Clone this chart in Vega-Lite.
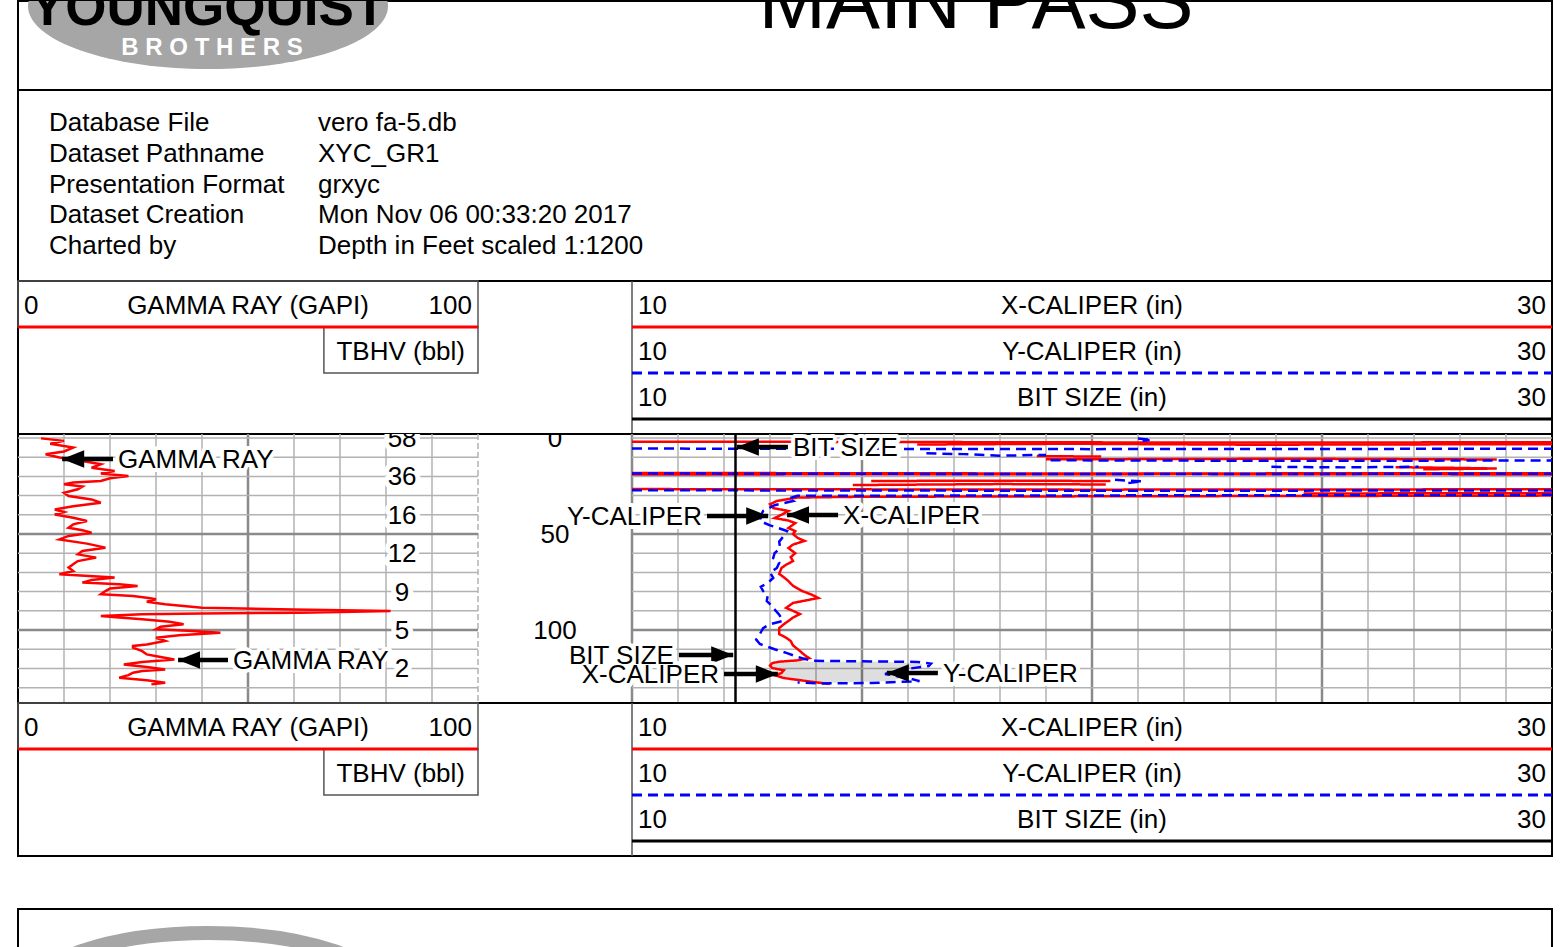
{
"$schema":"https://vega.github.io/schema/vega-lite/v6.json",
"background":"white",
"padding":{"left":15,"top":0,"right":19,"bottom":0},
"spacing":0,
"bounds":"flush",
"config":{"view":{"stroke":"#000000","strokeWidth":2},"font":"Liberation Sans","text":{"font":"Liberation Sans","color":"#000000"}},
"datasets":{
"info":[{"row":1,"label":"Database File","value":"vero fa-5.db"},{"row":2,"label":"Dataset Pathname","value":"XYC_GR1"},{"row":3,"label":"Presentation Format","value":"grxyc"},{"row":4,"label":"Dataset Creation","value":"Mon Nov 06 00:33:20 2017"},{"row":5,"label":"Charted by","value":"Depth in Feet scaled 1:1200"}],
"hdrLeft":[{"row":1,"lo":"0","name":"GAMMA RAY (GAPI)","hi":"100"},{"row":2,"lo":"","name":"TBHV (bbl)","hi":""}],
"hdrRight":[{"row":1,"curve":"X-CALIPER","name":"X-CALIPER (in)","lo":"10","hi":"30"},{"row":2,"curve":"Y-CALIPER","name":"Y-CALIPER (in)","lo":"10","hi":"30"},{"row":3,"curve":"BIT SIZE","name":"BIT SIZE (in)","lo":"10","hi":"30"}],
"depthGrid":[{"depth":0},{"depth":10},{"depth":20},{"depth":30},{"depth":40},{"depth":50},{"depth":60},{"depth":70},{"depth":80},{"depth":90},{"depth":100},{"depth":110},{"depth":120},{"depth":130}],
"grGrid":[{"v":10},{"v":20},{"v":30},{"v":40},{"v":50},{"v":60},{"v":70},{"v":80},{"v":90},{"v":100}],
"calGrid":[{"v":10},{"v":11},{"v":12},{"v":13},{"v":14},{"v":15},{"v":16},{"v":17},{"v":18},{"v":19},{"v":20},{"v":21},{"v":22},{"v":23},{"v":24},{"v":25},{"v":26},{"v":27},{"v":28},{"v":29}],
"gr":[{"depth":0.2,"gr":5},{"depth":1.5,"gr":10},{"depth":3,"gr":7},{"depth":5,"gr":12},{"depth":7,"gr":10},{"depth":8.5,"gr":6},{"depth":10.2,"gr":9},{"depth":12,"gr":14},{"depth":13.7,"gr":18},{"depth":15.5,"gr":16},{"depth":17.2,"gr":21},{"depth":18.5,"gr":18},{"depth":19.8,"gr":24},{"depth":21,"gr":20},{"depth":22.4,"gr":18},{"depth":23.2,"gr":12},{"depth":24.1,"gr":10},{"depth":25.3,"gr":14},{"depth":26.7,"gr":13},{"depth":28.5,"gr":10},{"depth":30.2,"gr":11},{"depth":32,"gr":16},{"depth":33.7,"gr":18},{"depth":35.5,"gr":12},{"depth":37.2,"gr":8},{"depth":38.5,"gr":10},{"depth":39.8,"gr":8},{"depth":41.5,"gr":12},{"depth":43.2,"gr":15},{"depth":45,"gr":12},{"depth":46.7,"gr":11},{"depth":48,"gr":14},{"depth":49.3,"gr":16},{"depth":51,"gr":11},{"depth":52.8,"gr":9},{"depth":55,"gr":15},{"depth":57.1,"gr":19},{"depth":58.8,"gr":14},{"depth":60.6,"gr":13},{"depth":62.3,"gr":17},{"depth":64.1,"gr":13},{"depth":65.8,"gr":12},{"depth":67.5,"gr":11},{"depth":69.3,"gr":12},{"depth":71,"gr":9},{"depth":72.7,"gr":21},{"depth":74,"gr":16},{"depth":75.3,"gr":14},{"depth":76.2,"gr":22},{"depth":77.1,"gr":26},{"depth":78.4,"gr":20},{"depth":79.7,"gr":19},{"depth":81.4,"gr":18},{"depth":82.3,"gr":25},{"depth":83.2,"gr":28},{"depth":84,"gr":30},{"depth":85.3,"gr":28},{"depth":86.6,"gr":32},{"depth":87.5,"gr":36},{"depth":88.4,"gr":40},{"depth":89.3,"gr":60},{"depth":90.1,"gr":81},{"depth":90.6,"gr":70},{"depth":91,"gr":61},{"depth":91.4,"gr":40},{"depth":91.8,"gr":27},{"depth":92.7,"gr":18},{"depth":93.5,"gr":22},{"depth":94.4,"gr":27},{"depth":95.7,"gr":33},{"depth":97,"gr":36},{"depth":98.3,"gr":31},{"depth":99.6,"gr":30},{"depth":100.5,"gr":38},{"depth":101.4,"gr":44},{"depth":102.7,"gr":35},{"depth":104,"gr":30},{"depth":105.7,"gr":32},{"depth":107.5,"gr":28},{"depth":108.3,"gr":25},{"depth":109.2,"gr":25},{"depth":111,"gr":27},{"depth":112.7,"gr":28},{"depth":114,"gr":31},{"depth":115.3,"gr":34},{"depth":116.6,"gr":27},{"depth":117.9,"gr":23},{"depth":119.2,"gr":28},{"depth":120.5,"gr":32},{"depth":121.3,"gr":27},{"depth":122.2,"gr":25},{"depth":123.5,"gr":24},{"depth":124.8,"gr":22},{"depth":126.1,"gr":28},{"depth":127.4,"gr":32},{"depth":128.3,"gr":29}],
"cal":[
{"curve":"X-CALIPER","seg":"x1","depth":1.9,"value":10},{"curve":"X-CALIPER","seg":"x1","depth":2.1,"value":16},{"curve":"X-CALIPER","seg":"x1","depth":2.4,"value":23},{"curve":"X-CALIPER","seg":"x1","depth":2.2,"value":30},
{"curve":"X-CALIPER","seg":"x2","depth":3.4,"value":16.2},{"curve":"X-CALIPER","seg":"x2","depth":3.0,"value":19.5},{"curve":"X-CALIPER","seg":"x2","depth":3.5,"value":23.5},{"curve":"X-CALIPER","seg":"x2","depth":3.2,"value":30},
{"curve":"X-CALIPER","seg":"x3","depth":9.4,"value":18.8},{"curve":"X-CALIPER","seg":"x3","depth":9.7,"value":20.2},
{"curve":"X-CALIPER","seg":"x4","depth":11.1,"value":19.0},{"curve":"X-CALIPER","seg":"x4","depth":10.8,"value":24.5},{"curve":"X-CALIPER","seg":"x4","depth":11.2,"value":28.8},
{"curve":"X-CALIPER","seg":"x5","depth":15.2,"value":26.6},{"curve":"X-CALIPER","seg":"x5","depth":15.6,"value":28.0},{"curve":"X-CALIPER","seg":"x5","depth":15.9,"value":28.8},{"curve":"X-CALIPER","seg":"x5","depth":16.3,"value":27.2},
{"curve":"X-CALIPER","seg":"x6","depth":18.2,"value":10},{"curve":"X-CALIPER","seg":"x6","depth":18.5,"value":20},{"curve":"X-CALIPER","seg":"x6","depth":18.3,"value":30},
{"curve":"X-CALIPER","seg":"x6b","depth":19.0,"value":10},{"curve":"X-CALIPER","seg":"x6b","depth":18.8,"value":22},{"curve":"X-CALIPER","seg":"x6b","depth":19.0,"value":30},
{"curve":"X-CALIPER","seg":"x7","depth":22.4,"value":15.2},{"curve":"X-CALIPER","seg":"x7","depth":22.2,"value":18},{"curve":"X-CALIPER","seg":"x7","depth":22.4,"value":20.4},
{"curve":"X-CALIPER","seg":"x7b","depth":24.5,"value":14.8},{"curve":"X-CALIPER","seg":"x7b","depth":24.0,"value":18},{"curve":"X-CALIPER","seg":"x7b","depth":24.2,"value":20.3},
{"curve":"X-CALIPER","seg":"x8","depth":26.6,"value":10},{"curve":"X-CALIPER","seg":"x8","depth":26.9,"value":20},{"curve":"X-CALIPER","seg":"x8","depth":26.7,"value":30},
{"curve":"X-CALIPER","seg":"x9","depth":28.9,"value":24.6},{"curve":"X-CALIPER","seg":"x9","depth":28.7,"value":30},
{"curve":"X-CALIPER","seg":"xm","depth":30.0,"value":30},{"curve":"X-CALIPER","seg":"xm","depth":30.3,"value":22},{"curve":"X-CALIPER","seg":"xm","depth":30.6,"value":15},{"curve":"X-CALIPER","seg":"xm","depth":31.0,"value":13.6},{"curve":"X-CALIPER","seg":"xm","depth":32.8,"value":13.15},{"curve":"X-CALIPER","seg":"xm","depth":34.5,"value":13.0},{"curve":"X-CALIPER","seg":"xm","depth":36.5,"value":13.07},{"curve":"X-CALIPER","seg":"xm","depth":38.0,"value":13.4},{"curve":"X-CALIPER","seg":"xm","depth":39.6,"value":13.28},{"curve":"X-CALIPER","seg":"xm","depth":41.7,"value":13.1},{"curve":"X-CALIPER","seg":"xm","depth":43.0,"value":13.4},{"curve":"X-CALIPER","seg":"xm","depth":44.3,"value":13.55},{"curve":"X-CALIPER","seg":"xm","depth":46.9,"value":13.4},{"curve":"X-CALIPER","seg":"xm","depth":48.5,"value":13.55},{"curve":"X-CALIPER","seg":"xm","depth":50.0,"value":13.5},{"curve":"X-CALIPER","seg":"xm","depth":52.0,"value":13.6},{"curve":"X-CALIPER","seg":"xm","depth":53.6,"value":13.75},{"curve":"X-CALIPER","seg":"xm","depth":55.5,"value":13.5},{"curve":"X-CALIPER","seg":"xm","depth":57.3,"value":13.4},{"curve":"X-CALIPER","seg":"xm","depth":60.0,"value":13.55},{"curve":"X-CALIPER","seg":"xm","depth":62.0,"value":13.45},{"curve":"X-CALIPER","seg":"xm","depth":64.1,"value":13.5},{"curve":"X-CALIPER","seg":"xm","depth":66.0,"value":13.35},{"curve":"X-CALIPER","seg":"xm","depth":67.7,"value":13.25},{"curve":"X-CALIPER","seg":"xm","depth":70.8,"value":13.2},{"curve":"X-CALIPER","seg":"xm","depth":72.5,"value":13.3},{"curve":"X-CALIPER","seg":"xm","depth":74.5,"value":13.4},{"curve":"X-CALIPER","seg":"xm","depth":77.0,"value":13.5},{"curve":"X-CALIPER","seg":"xm","depth":79.7,"value":13.7},{"curve":"X-CALIPER","seg":"xm","depth":81.5,"value":13.9},{"curve":"X-CALIPER","seg":"xm","depth":83.3,"value":14.05},{"curve":"X-CALIPER","seg":"xm","depth":84.5,"value":13.8},{"curve":"X-CALIPER","seg":"xm","depth":85.9,"value":13.5},{"curve":"X-CALIPER","seg":"xm","depth":88.5,"value":13.35},{"curve":"X-CALIPER","seg":"xm","depth":90.0,"value":13.5},{"curve":"X-CALIPER","seg":"xm","depth":91.7,"value":13.65},{"curve":"X-CALIPER","seg":"xm","depth":93.5,"value":13.5},{"curve":"X-CALIPER","seg":"xm","depth":95.3,"value":13.4},{"curve":"X-CALIPER","seg":"xm","depth":97.0,"value":13.3},{"curve":"X-CALIPER","seg":"xm","depth":99.0,"value":13.2},{"curve":"X-CALIPER","seg":"xm","depth":102.1,"value":13.2},{"curve":"X-CALIPER","seg":"xm","depth":104.0,"value":13.35},{"curve":"X-CALIPER","seg":"xm","depth":105.7,"value":13.45},{"curve":"X-CALIPER","seg":"xm","depth":108.0,"value":13.5},{"curve":"X-CALIPER","seg":"xm","depth":110.9,"value":13.65},{"curve":"X-CALIPER","seg":"xm","depth":113.0,"value":13.75},{"curve":"X-CALIPER","seg":"xm","depth":114.6,"value":13.85},{"curve":"X-CALIPER","seg":"xm","depth":115.8,"value":13.6},{"curve":"X-CALIPER","seg":"xm","depth":116.5,"value":13.2},{"curve":"X-CALIPER","seg":"xm","depth":117.2,"value":13.05},{"curve":"X-CALIPER","seg":"xm","depth":118.5,"value":13.0},{"curve":"X-CALIPER","seg":"xm","depth":119.8,"value":13.05},{"curve":"X-CALIPER","seg":"xm","depth":121.0,"value":13.3},{"curve":"X-CALIPER","seg":"xm","depth":122.4,"value":13.25},{"curve":"X-CALIPER","seg":"xm","depth":123.5,"value":13.1},{"curve":"X-CALIPER","seg":"xm","depth":125.0,"value":13.3},{"curve":"X-CALIPER","seg":"xm","depth":126.6,"value":13.8},{"curve":"X-CALIPER","seg":"xm","depth":127.5,"value":14.1},{"curve":"X-CALIPER","seg":"xm","depth":128.1,"value":14.3},
{"curve":"Y-CALIPER","seg":"y0","depth":0.3,"value":21.0},{"curve":"Y-CALIPER","seg":"y0","depth":0.9,"value":21.3},{"curve":"Y-CALIPER","seg":"y0","depth":1.6,"value":21.1},
{"curve":"Y-CALIPER","seg":"y1","depth":5.5,"value":10},{"curve":"Y-CALIPER","seg":"y1","depth":5.8,"value":20},{"curve":"Y-CALIPER","seg":"y1","depth":5.6,"value":30},
{"curve":"Y-CALIPER","seg":"y2","depth":8.0,"value":16.4},{"curve":"Y-CALIPER","seg":"y2","depth":8.4,"value":17.2},{"curve":"Y-CALIPER","seg":"y2","depth":9.2,"value":18.0},{"curve":"Y-CALIPER","seg":"y2","depth":8.8,"value":19.0},
{"curve":"Y-CALIPER","seg":"y3","depth":11.6,"value":19.1},{"curve":"Y-CALIPER","seg":"y3","depth":11.9,"value":24},{"curve":"Y-CALIPER","seg":"y3","depth":11.7,"value":30},
{"curve":"Y-CALIPER","seg":"y4","depth":15.0,"value":23.9},{"curve":"Y-CALIPER","seg":"y4","depth":15.3,"value":25.5},{"curve":"Y-CALIPER","seg":"y4","depth":15.0,"value":27.1},
{"curve":"Y-CALIPER","seg":"y5","depth":18.5,"value":10},{"curve":"Y-CALIPER","seg":"y5","depth":18.8,"value":20},{"curve":"Y-CALIPER","seg":"y5","depth":18.6,"value":30},
{"curve":"Y-CALIPER","seg":"y6","depth":21.8,"value":20.5},{"curve":"Y-CALIPER","seg":"y6","depth":22.6,"value":21.1},{"curve":"Y-CALIPER","seg":"y6","depth":23.6,"value":20.7},
{"curve":"Y-CALIPER","seg":"y7","depth":27.2,"value":10},{"curve":"Y-CALIPER","seg":"y7","depth":27.5,"value":20},{"curve":"Y-CALIPER","seg":"y7","depth":27.3,"value":30},
{"curve":"Y-CALIPER","seg":"ym","depth":29.6,"value":30},{"curve":"Y-CALIPER","seg":"ym","depth":29.9,"value":20},{"curve":"Y-CALIPER","seg":"ym","depth":30.1,"value":13.6},{"curve":"Y-CALIPER","seg":"ym","depth":31.5,"value":13.4},{"curve":"Y-CALIPER","seg":"ym","depth":32.8,"value":13.5},{"curve":"Y-CALIPER","seg":"ym","depth":35.0,"value":13.1},{"curve":"Y-CALIPER","seg":"ym","depth":38.0,"value":12.85},{"curve":"Y-CALIPER","seg":"ym","depth":40.5,"value":12.8},{"curve":"Y-CALIPER","seg":"ym","depth":43.2,"value":12.78},{"curve":"Y-CALIPER","seg":"ym","depth":45.5,"value":13.0},{"curve":"Y-CALIPER","seg":"ym","depth":48.4,"value":13.37},{"curve":"Y-CALIPER","seg":"ym","depth":51.0,"value":13.3},{"curve":"Y-CALIPER","seg":"ym","depth":54.0,"value":13.2},{"curve":"Y-CALIPER","seg":"ym","depth":57.3,"value":13.22},{"curve":"Y-CALIPER","seg":"ym","depth":60.0,"value":13.1},{"curve":"Y-CALIPER","seg":"ym","depth":62.5,"value":13.07},{"curve":"Y-CALIPER","seg":"ym","depth":65.0,"value":13.2},{"curve":"Y-CALIPER","seg":"ym","depth":67.7,"value":13.15},{"curve":"Y-CALIPER","seg":"ym","depth":70.0,"value":13.0},{"curve":"Y-CALIPER","seg":"ym","depth":72.9,"value":13.07},{"curve":"Y-CALIPER","seg":"ym","depth":75.5,"value":12.95},{"curve":"Y-CALIPER","seg":"ym","depth":77.5,"value":12.8},{"curve":"Y-CALIPER","seg":"ym","depth":79.7,"value":12.85},{"curve":"Y-CALIPER","seg":"ym","depth":82.0,"value":12.95},{"curve":"Y-CALIPER","seg":"ym","depth":84.9,"value":12.93},{"curve":"Y-CALIPER","seg":"ym","depth":86.5,"value":13.0},{"curve":"Y-CALIPER","seg":"ym","depth":88.5,"value":13.07},{"curve":"Y-CALIPER","seg":"ym","depth":92.0,"value":13.2},{"curve":"Y-CALIPER","seg":"ym","depth":95.3,"value":13.28},{"curve":"Y-CALIPER","seg":"ym","depth":97.0,"value":13.0},{"curve":"Y-CALIPER","seg":"ym","depth":99.0,"value":12.85},{"curve":"Y-CALIPER","seg":"ym","depth":102.1,"value":12.78},{"curve":"Y-CALIPER","seg":"ym","depth":105.0,"value":12.7},{"curve":"Y-CALIPER","seg":"ym","depth":107.3,"value":12.78},{"curve":"Y-CALIPER","seg":"ym","depth":110.0,"value":13.1},{"curve":"Y-CALIPER","seg":"ym","depth":112.0,"value":13.37},{"curve":"Y-CALIPER","seg":"ym","depth":114.0,"value":13.6},{"curve":"Y-CALIPER","seg":"ym","depth":116.0,"value":13.9},{"curve":"Y-CALIPER","seg":"ym","depth":116.3,"value":15.0},{"curve":"Y-CALIPER","seg":"ym","depth":116.6,"value":16.2},{"curve":"Y-CALIPER","seg":"ym","depth":117.5,"value":16.5},{"curve":"Y-CALIPER","seg":"ym","depth":118.8,"value":16.45},{"curve":"Y-CALIPER","seg":"ym","depth":120.5,"value":15.9},{"curve":"Y-CALIPER","seg":"ym","depth":122.9,"value":15.5},{"curve":"Y-CALIPER","seg":"ym","depth":125.0,"value":16.0},{"curve":"Y-CALIPER","seg":"ym","depth":126.6,"value":16.25},{"curve":"Y-CALIPER","seg":"ym","depth":127.6,"value":15.2},{"curve":"Y-CALIPER","seg":"ym","depth":127.8,"value":14.1},{"curve":"Y-CALIPER","seg":"ym","depth":127.3,"value":13.6}
],
"fill":[{"depth":116.5,"lo":13.6,"hi":15.4},{"depth":117.5,"lo":13.1,"hi":16.3},{"depth":119,"lo":13.0,"hi":16.3},{"depth":121,"lo":13.25,"hi":15.8},{"depth":123,"lo":13.2,"hi":15.6},{"depth":125,"lo":13.3,"hi":15.9},{"depth":126.6,"lo":13.8,"hi":15.6},{"depth":127.5,"lo":14.1,"hi":14.4}],
"bit":[{"curve":"BIT SIZE","value":12.25}],
"tbhv":[{"depth":0,"label":"58"},{"depth":20,"label":"36"},{"depth":40,"label":"16"},{"depth":60,"label":"12"},{"depth":80,"label":"9"},{"depth":100,"label":"5"},{"depth":120,"label":"2"}],
"depthLabels":[{"depth":0,"label":"0"},{"depth":50,"label":"50"},{"depth":100,"label":"100"}],
"grNotes":[{"label":"GAMMA RAY","depth":10.9,"tip":9.6,"tail":20.65,"dir":"left"},{"label":"GAMMA RAY","depth":115.6,"tip":34.8,"tail":45.65,"dir":"left"}],
"calNotes":[{"label":"BIT SIZE","depth":4.7,"tip":12.28,"tail":13.39,"dir":"left"},{"label":"Y-CALIPER","depth":40.6,"tip":12.96,"tail":11.63,"dir":"right"},{"label":"X-CALIPER","depth":40.1,"tip":13.37,"tail":14.48,"dir":"left"},{"label":"BIT SIZE","depth":113.0,"tip":12.2,"tail":11.02,"dir":"right"},{"label":"X-CALIPER","depth":122.9,"tip":13.17,"tail":12.0,"dir":"right"},{"label":"Y-CALIPER","depth":122.4,"tip":15.54,"tail":16.65,"dir":"left"}]
},
"vconcat":[
{"width":1534,"height":89,
 "data":{"values":[{"logo":"YOUNGQUIST","sub":"B R O T H E R S","title":"MAIN PASS"}]},
 "layer":[
  {"mark":{"type":"point","shape":"M-1,0C-1,-0.193,-0.552,-0.35,0,-0.35C0.552,-0.35,1,-0.193,1,0C1,0.193,0.552,0.35,0,0.35C-0.552,0.35,-1,0.193,-1,0Z","filled":true,"color":"#a6a6a6","opacity":1,"strokeWidth":0,"size":129600,"clip":true},"encoding":{"x":{"value":190},"y":{"value":5}}},
  {"mark":{"type":"text","align":"center","baseline":"alphabetic","fontSize":53,"fontWeight":"bold","color":"#000000","clip":true},"encoding":{"x":{"value":190},"y":{"value":24},"text":{"field":"logo"}}},
  {"mark":{"type":"text","align":"center","baseline":"middle","fontSize":24,"fontWeight":"bold","color":"#ffffff"},"encoding":{"x":{"value":194},"y":{"value":47},"text":{"field":"sub"}}},
  {"mark":{"type":"text","align":"center","baseline":"alphabetic","fontSize":81,"color":"#000000","clip":true},"encoding":{"x":{"value":958},"y":{"value":27},"text":{"field":"title"}}}
 ]},
{"width":1534,"height":191,
 "data":{"name":"info"},
 "transform":[{"fold":["label","value"],"as":["col","txt"]}],
 "mark":{"type":"text","align":"left","baseline":"middle","fontSize":26,"dy":-1},
 "encoding":{
  "x":{"field":"col","type":"nominal","scale":{"type":"point","domain":["label","value"],"range":[31,300],"padding":0},"axis":null},
  "y":{"field":"row","type":"ordinal","bandPosition":0.5,"scale":{"type":"band","paddingInner":0,"paddingOuter":0.6},"axis":null},
  "text":{"field":"txt"}}},
{"width":1534,"height":153,
 "resolve":{"scale":{"x":"independent"}},
 "layer":[
  {"data":{"name":"hdrLeft"},
   "layer":[
    {"transform":[{"filter":"datum.row === 1"}],"mark":{"type":"rect","filled":false,"color":"#555555","strokeWidth":1.5},"encoding":{"x":{"datum":0,"scale":{"domain":[0,100],"range":[0,460],"nice":false,"zero":false},"axis":null},"x2":{"datum":100},"y":{"field":"row","type":"ordinal","scale":{"type":"band","domain":[1,2,3],"paddingInner":0,"paddingOuter":0.163,"align":0},"axis":null}}},
    {"transform":[{"filter":"datum.row === 2"}],"mark":{"type":"rect","filled":false,"color":"#555555","strokeWidth":1.5},"encoding":{"x":{"datum":66.5,"scale":{"domain":[0,100],"range":[0,460],"nice":false,"zero":false},"axis":null},"x2":{"datum":100},"y":{"field":"row","type":"ordinal","scale":{"type":"band","domain":[1,2,3],"paddingInner":0,"paddingOuter":0.163,"align":0},"axis":null}}},
    {"transform":[{"filter":"datum.row === 1"}],"mark":{"type":"rule","color":"#ff0000","strokeWidth":3},"encoding":{"x":{"datum":0,"scale":{"domain":[0,100],"range":[0,460],"nice":false,"zero":false},"axis":null},"x2":{"datum":100},"y":{"field":"row","type":"ordinal","bandPosition":1,"scale":{"type":"band","domain":[1,2,3],"paddingInner":0,"paddingOuter":0.163,"align":0},"axis":null}}},
    {"transform":[{"filter":"datum.row === 1"}],"mark":{"type":"text","align":"left","baseline":"middle","fontSize":26,"dx":6,"dy":2},"encoding":{"x":{"datum":0,"scale":{"domain":[0,100],"range":[0,460],"nice":false,"zero":false},"axis":null},"y":{"field":"row","type":"ordinal","bandPosition":0.5,"scale":{"type":"band","domain":[1,2,3],"paddingInner":0,"paddingOuter":0.163,"align":0},"axis":null},"text":{"field":"lo"}}},
    {"transform":[{"filter":"datum.row === 1"}],"mark":{"type":"text","align":"center","baseline":"middle","fontSize":26,"dy":2},"encoding":{"x":{"datum":50,"scale":{"domain":[0,100],"range":[0,460],"nice":false,"zero":false},"axis":null},"y":{"field":"row","type":"ordinal","bandPosition":0.5,"scale":{"type":"band","domain":[1,2,3],"paddingInner":0,"paddingOuter":0.163,"align":0},"axis":null},"text":{"field":"name"}}},
    {"transform":[{"filter":"datum.row === 1"}],"mark":{"type":"text","align":"right","baseline":"middle","fontSize":26,"dx":-6,"dy":2},"encoding":{"x":{"datum":100,"scale":{"domain":[0,100],"range":[0,460],"nice":false,"zero":false},"axis":null},"y":{"field":"row","type":"ordinal","bandPosition":0.5,"scale":{"type":"band","domain":[1,2,3],"paddingInner":0,"paddingOuter":0.163,"align":0},"axis":null},"text":{"field":"hi"}}},
    {"transform":[{"filter":"datum.row === 2"}],"mark":{"type":"text","align":"center","baseline":"middle","fontSize":26,"dy":2},"encoding":{"x":{"datum":83.2,"scale":{"domain":[0,100],"range":[0,460],"nice":false,"zero":false},"axis":null},"y":{"field":"row","type":"ordinal","bandPosition":0.5,"scale":{"type":"band","domain":[1,2,3],"paddingInner":0,"paddingOuter":0.163,"align":0},"axis":null},"text":{"field":"name"}}}
   ]},
  {"data":{"name":"hdrRight"},
   "layer":[
    {"data":{"values":[{"v":10}]},"mark":{"type":"rule","color":"#555555","strokeWidth":1.5},"encoding":{"x":{"field":"v","type":"quantitative","scale":{"domain":[10,30],"range":[614,1534],"nice":false,"zero":false},"axis":null}}},
    {"mark":{"type":"rule","strokeWidth":3},"encoding":{"x":{"datum":10,"scale":{"domain":[10,30],"range":[614,1534],"nice":false,"zero":false},"axis":null},"x2":{"datum":30},"y":{"field":"row","type":"ordinal","bandPosition":1,"scale":{"type":"band","domain":[1,2,3],"paddingInner":0,"paddingOuter":0.163,"align":0},"axis":null},"color":{"field":"curve","type":"nominal","scale":{"domain":["X-CALIPER","Y-CALIPER","BIT SIZE"],"range":["#ff0000","#0000ff","#000000"]},"legend":null},"strokeDash":{"field":"curve","type":"nominal","scale":{"domain":["X-CALIPER","Y-CALIPER","BIT SIZE"],"range":[[1,0],[10,6],[1,0]]},"legend":null}}},
    {"mark":{"type":"text","align":"left","baseline":"middle","fontSize":26,"dx":6,"dy":2},"encoding":{"x":{"datum":10,"scale":{"domain":[10,30],"range":[614,1534],"nice":false,"zero":false},"axis":null},"y":{"field":"row","type":"ordinal","bandPosition":0.5,"scale":{"type":"band","domain":[1,2,3],"paddingInner":0,"paddingOuter":0.163,"align":0},"axis":null},"text":{"field":"lo"}}},
    {"mark":{"type":"text","align":"center","baseline":"middle","fontSize":26,"dy":2},"encoding":{"x":{"datum":20,"scale":{"domain":[10,30],"range":[614,1534],"nice":false,"zero":false},"axis":null},"y":{"field":"row","type":"ordinal","bandPosition":0.5,"scale":{"type":"band","domain":[1,2,3],"paddingInner":0,"paddingOuter":0.163,"align":0},"axis":null},"text":{"field":"name"}}},
    {"mark":{"type":"text","align":"right","baseline":"middle","fontSize":26,"dx":-6,"dy":2},"encoding":{"x":{"datum":30,"scale":{"domain":[10,30],"range":[614,1534],"nice":false,"zero":false},"axis":null},"y":{"field":"row","type":"ordinal","bandPosition":0.5,"scale":{"type":"band","domain":[1,2,3],"paddingInner":0,"paddingOuter":0.163,"align":0},"axis":null},"text":{"field":"hi"}}}
   ]}
 ]},
{"width":1534,"height":269,
 "resolve":{"scale":{"x":"independent"}},
 "layer":[
  {"layer":[
    {"data":{"name":"grGrid"},"mark":{"type":"rule"},"encoding":{"x":{"field":"v","type":"quantitative","scale":{"domain":[0,100],"range":[0,460],"nice":false,"zero":false},"axis":null},"color":{"condition":{"test":"datum.v === 50","value":"#8a8a8a"},"value":"#b2b2b2"},"strokeWidth":{"condition":{"test":"datum.v === 50","value":2.5},"value":1.5},"strokeDash":{"condition":{"test":"datum.v === 100","value":[6,3]},"value":[1,0]}}},
    {"data":{"name":"depthGrid"},"mark":{"type":"rule"},"encoding":{"x":{"datum":0,"scale":{"domain":[0,100],"range":[0,460],"nice":false,"zero":false},"axis":null},"x2":{"datum":100},"y":{"field":"depth","type":"quantitative","scale":{"domain":[-2.08,138],"reverse":true,"nice":false,"zero":false},"axis":null},"color":{"condition":{"test":"datum.depth === 50 || datum.depth === 100","value":"#8a8a8a"},"value":"#b2b2b2"},"strokeWidth":{"condition":{"test":"datum.depth === 50 || datum.depth === 100","value":2.5},"value":1.5}}},
    {"data":{"name":"gr"},"mark":{"type":"line","color":"#ff0000","strokeWidth":2.5},"encoding":{"x":{"field":"gr","type":"quantitative","scale":{"domain":[0,100],"range":[0,460],"nice":false,"zero":false},"axis":null},"y":{"field":"depth","type":"quantitative","scale":{"domain":[-2.08,138],"reverse":true,"nice":false,"zero":false},"axis":null},"order":{"value":null}}},
    {"data":{"name":"grNotes"},"layer":[
      {"mark":{"type":"rule","color":"#000000","strokeWidth":4.5},"encoding":{"x":{"field":"tail","type":"quantitative","scale":{"domain":[0,100],"range":[0,460],"nice":false,"zero":false},"axis":null},"x2":{"field":"tip"},"y":{"field":"depth","type":"quantitative","scale":{"domain":[-2.08,138],"reverse":true,"nice":false,"zero":false},"axis":null}}},
      {"mark":{"type":"point","filled":true,"color":"#000000","opacity":1,"size":484,"strokeWidth":0},"encoding":{"x":{"field":"tip","type":"quantitative","scale":{"domain":[0,100],"range":[0,460],"nice":false,"zero":false},"axis":null},"y":{"field":"depth","type":"quantitative","scale":{"domain":[-2.08,138],"reverse":true,"nice":false,"zero":false},"axis":null},"shape":{"field":"dir","type":"nominal","scale":{"domain":["left","right"],"range":["M0,0L2,-0.8L2,0.8Z","M0,0L-2,-0.8L-2,0.8Z"]},"legend":null}}},
      {"mark":{"type":"text","align":"left","baseline":"middle","fontSize":26,"dx":5,"dy":1,"fill":"#ffffff","stroke":"#ffffff","strokeWidth":8,"strokeJoin":"round"},"encoding":{"x":{"field":"tail","type":"quantitative","scale":{"domain":[0,100],"range":[0,460],"nice":false,"zero":false},"axis":null},"y":{"field":"depth","type":"quantitative","scale":{"domain":[-2.08,138],"reverse":true,"nice":false,"zero":false},"axis":null},"text":{"field":"label"}}},
      {"mark":{"type":"text","align":"left","baseline":"middle","fontSize":26,"dx":5,"dy":1},"encoding":{"x":{"field":"tail","type":"quantitative","scale":{"domain":[0,100],"range":[0,460],"nice":false,"zero":false},"axis":null},"y":{"field":"depth","type":"quantitative","scale":{"domain":[-2.08,138],"reverse":true,"nice":false,"zero":false},"axis":null},"text":{"field":"label"}}}
    ]},
    {"data":{"name":"tbhv"},"layer":[
      {"mark":{"type":"text","align":"center","baseline":"middle","fontSize":26,"dy":1,"fill":"#ffffff","stroke":"#ffffff","strokeWidth":10,"strokeJoin":"round","clip":true},"encoding":{"x":{"datum":83.5,"scale":{"domain":[0,100],"range":[0,460],"nice":false,"zero":false},"axis":null},"y":{"field":"depth","type":"quantitative","scale":{"domain":[-2.08,138],"reverse":true,"nice":false,"zero":false},"axis":null},"text":{"field":"label"}}},
      {"mark":{"type":"text","align":"center","baseline":"middle","fontSize":26,"dy":1,"clip":true},"encoding":{"x":{"datum":83.5,"scale":{"domain":[0,100],"range":[0,460],"nice":false,"zero":false},"axis":null},"y":{"field":"depth","type":"quantitative","scale":{"domain":[-2.08,138],"reverse":true,"nice":false,"zero":false},"axis":null},"text":{"field":"label"}}}
    ]}
  ]},
  {"data":{"name":"depthLabels"},"mark":{"type":"text","align":"center","baseline":"middle","fontSize":26,"dy":1,"clip":true},"encoding":{"x":{"datum":0.5,"scale":{"domain":[0,1],"range":[460,614],"nice":false,"zero":false},"axis":null},"y":{"field":"depth","type":"quantitative","scale":{"domain":[-2.08,138],"reverse":true,"nice":false,"zero":false},"axis":null},"text":{"field":"label"}}},
  {"layer":[
    {"data":{"name":"calGrid"},"mark":{"type":"rule"},"encoding":{"x":{"field":"v","type":"quantitative","scale":{"domain":[10,30],"range":[614,1534],"nice":false,"zero":false},"axis":null},"color":{"condition":{"test":"datum.v % 5 === 0","value":"#8a8a8a"},"value":"#b2b2b2"},"strokeWidth":{"condition":{"test":"datum.v % 5 === 0","value":2.5},"value":1.5}}},
    {"data":{"name":"depthGrid"},"mark":{"type":"rule"},"encoding":{"x":{"datum":10,"scale":{"domain":[10,30],"range":[614,1534],"nice":false,"zero":false},"axis":null},"x2":{"datum":30},"y":{"field":"depth","type":"quantitative","scale":{"domain":[-2.08,138],"reverse":true,"nice":false,"zero":false},"axis":null},"color":{"condition":{"test":"datum.depth === 50 || datum.depth === 100","value":"#8a8a8a"},"value":"#b2b2b2"},"strokeWidth":{"condition":{"test":"datum.depth === 50 || datum.depth === 100","value":2.5},"value":1.5}}},
    {"data":{"name":"fill"},"mark":{"type":"area","orient":"horizontal","color":"#000000","opacity":0.13},"encoding":{"x":{"field":"lo","type":"quantitative","scale":{"domain":[10,30],"range":[614,1534],"nice":false,"zero":false},"axis":null},"x2":{"field":"hi"},"y":{"field":"depth","type":"quantitative","scale":{"domain":[-2.08,138],"reverse":true,"nice":false,"zero":false},"axis":null}}},
    {"data":{"name":"cal"},"mark":{"type":"line","strokeWidth":2.5},"encoding":{"x":{"field":"value","type":"quantitative","scale":{"domain":[10,30],"range":[614,1534],"nice":false,"zero":false},"axis":null},"y":{"field":"depth","type":"quantitative","scale":{"domain":[-2.08,138],"reverse":true,"nice":false,"zero":false},"axis":null},"color":{"field":"curve","type":"nominal","scale":{"domain":["X-CALIPER","Y-CALIPER","BIT SIZE"],"range":["#ff0000","#0000ff","#000000"]},"legend":null},"strokeDash":{"field":"curve","type":"nominal","scale":{"domain":["X-CALIPER","Y-CALIPER","BIT SIZE"],"range":[[1,0],[10,6],[1,0]]},"legend":null},"detail":{"field":"seg"},"order":{"value":null}}},
    {"data":{"name":"bit"},"mark":{"type":"rule","strokeWidth":2.5},"encoding":{"x":{"field":"value","type":"quantitative","scale":{"domain":[10,30],"range":[614,1534],"nice":false,"zero":false},"axis":null},"color":{"field":"curve","type":"nominal","scale":{"domain":["X-CALIPER","Y-CALIPER","BIT SIZE"],"range":["#ff0000","#0000ff","#000000"]},"legend":null}}},
    {"data":{"name":"calNotes"},"layer":[
      {"mark":{"type":"rule","color":"#000000","strokeWidth":4.5},"encoding":{"x":{"field":"tail","type":"quantitative","scale":{"domain":[10,30],"range":[614,1534],"nice":false,"zero":false},"axis":null},"x2":{"field":"tip"},"y":{"field":"depth","type":"quantitative","scale":{"domain":[-2.08,138],"reverse":true,"nice":false,"zero":false},"axis":null}}},
      {"mark":{"type":"point","filled":true,"color":"#000000","opacity":1,"size":484,"strokeWidth":0},"encoding":{"x":{"field":"tip","type":"quantitative","scale":{"domain":[10,30],"range":[614,1534],"nice":false,"zero":false},"axis":null},"y":{"field":"depth","type":"quantitative","scale":{"domain":[-2.08,138],"reverse":true,"nice":false,"zero":false},"axis":null},"shape":{"field":"dir","type":"nominal","scale":{"domain":["left","right"],"range":["M0,0L2,-0.8L2,0.8Z","M0,0L-2,-0.8L-2,0.8Z"]},"legend":null}}},
      {"transform":[{"filter":"datum.dir === 'left'"}],"mark":{"type":"text","align":"left","baseline":"middle","fontSize":26,"dx":5,"dy":1,"fill":"#ffffff","stroke":"#ffffff","strokeWidth":8,"strokeJoin":"round"},"encoding":{"x":{"field":"tail","type":"quantitative","scale":{"domain":[10,30],"range":[614,1534],"nice":false,"zero":false},"axis":null},"y":{"field":"depth","type":"quantitative","scale":{"domain":[-2.08,138],"reverse":true,"nice":false,"zero":false},"axis":null},"text":{"field":"label"}}},
      {"transform":[{"filter":"datum.dir === 'right'"}],"mark":{"type":"text","align":"right","baseline":"middle","fontSize":26,"dx":-5,"dy":1,"fill":"#ffffff","stroke":"#ffffff","strokeWidth":8,"strokeJoin":"round"},"encoding":{"x":{"field":"tail","type":"quantitative","scale":{"domain":[10,30],"range":[614,1534],"nice":false,"zero":false},"axis":null},"y":{"field":"depth","type":"quantitative","scale":{"domain":[-2.08,138],"reverse":true,"nice":false,"zero":false},"axis":null},"text":{"field":"label"}}},
      {"transform":[{"filter":"datum.dir === 'left'"}],"mark":{"type":"text","align":"left","baseline":"middle","fontSize":26,"dx":5,"dy":1},"encoding":{"x":{"field":"tail","type":"quantitative","scale":{"domain":[10,30],"range":[614,1534],"nice":false,"zero":false},"axis":null},"y":{"field":"depth","type":"quantitative","scale":{"domain":[-2.08,138],"reverse":true,"nice":false,"zero":false},"axis":null},"text":{"field":"label"}}},
      {"transform":[{"filter":"datum.dir === 'right'"}],"mark":{"type":"text","align":"right","baseline":"middle","fontSize":26,"dx":-5,"dy":1},"encoding":{"x":{"field":"tail","type":"quantitative","scale":{"domain":[10,30],"range":[614,1534],"nice":false,"zero":false},"axis":null},"y":{"field":"depth","type":"quantitative","scale":{"domain":[-2.08,138],"reverse":true,"nice":false,"zero":false},"axis":null},"text":{"field":"label"}}}
    ]}
  ]}
 ]},
{"width":1534,"height":153,
 "resolve":{"scale":{"x":"independent"}},
 "layer":[
  {"data":{"name":"hdrLeft"},
   "layer":[
    {"transform":[{"filter":"datum.row === 1"}],"mark":{"type":"rect","filled":false,"color":"#555555","strokeWidth":1.5},"encoding":{"x":{"datum":0,"scale":{"domain":[0,100],"range":[0,460],"nice":false,"zero":false},"axis":null},"x2":{"datum":100},"y":{"field":"row","type":"ordinal","scale":{"type":"band","domain":[1,2,3],"paddingInner":0,"paddingOuter":0.163,"align":0},"axis":null}}},
    {"transform":[{"filter":"datum.row === 2"}],"mark":{"type":"rect","filled":false,"color":"#555555","strokeWidth":1.5},"encoding":{"x":{"datum":66.5,"scale":{"domain":[0,100],"range":[0,460],"nice":false,"zero":false},"axis":null},"x2":{"datum":100},"y":{"field":"row","type":"ordinal","scale":{"type":"band","domain":[1,2,3],"paddingInner":0,"paddingOuter":0.163,"align":0},"axis":null}}},
    {"transform":[{"filter":"datum.row === 1"}],"mark":{"type":"rule","color":"#ff0000","strokeWidth":3},"encoding":{"x":{"datum":0,"scale":{"domain":[0,100],"range":[0,460],"nice":false,"zero":false},"axis":null},"x2":{"datum":100},"y":{"field":"row","type":"ordinal","bandPosition":1,"scale":{"type":"band","domain":[1,2,3],"paddingInner":0,"paddingOuter":0.163,"align":0},"axis":null}}},
    {"transform":[{"filter":"datum.row === 1"}],"mark":{"type":"text","align":"left","baseline":"middle","fontSize":26,"dx":6,"dy":2},"encoding":{"x":{"datum":0,"scale":{"domain":[0,100],"range":[0,460],"nice":false,"zero":false},"axis":null},"y":{"field":"row","type":"ordinal","bandPosition":0.5,"scale":{"type":"band","domain":[1,2,3],"paddingInner":0,"paddingOuter":0.163,"align":0},"axis":null},"text":{"field":"lo"}}},
    {"transform":[{"filter":"datum.row === 1"}],"mark":{"type":"text","align":"center","baseline":"middle","fontSize":26,"dy":2},"encoding":{"x":{"datum":50,"scale":{"domain":[0,100],"range":[0,460],"nice":false,"zero":false},"axis":null},"y":{"field":"row","type":"ordinal","bandPosition":0.5,"scale":{"type":"band","domain":[1,2,3],"paddingInner":0,"paddingOuter":0.163,"align":0},"axis":null},"text":{"field":"name"}}},
    {"transform":[{"filter":"datum.row === 1"}],"mark":{"type":"text","align":"right","baseline":"middle","fontSize":26,"dx":-6,"dy":2},"encoding":{"x":{"datum":100,"scale":{"domain":[0,100],"range":[0,460],"nice":false,"zero":false},"axis":null},"y":{"field":"row","type":"ordinal","bandPosition":0.5,"scale":{"type":"band","domain":[1,2,3],"paddingInner":0,"paddingOuter":0.163,"align":0},"axis":null},"text":{"field":"hi"}}},
    {"transform":[{"filter":"datum.row === 2"}],"mark":{"type":"text","align":"center","baseline":"middle","fontSize":26,"dy":2},"encoding":{"x":{"datum":83.2,"scale":{"domain":[0,100],"range":[0,460],"nice":false,"zero":false},"axis":null},"y":{"field":"row","type":"ordinal","bandPosition":0.5,"scale":{"type":"band","domain":[1,2,3],"paddingInner":0,"paddingOuter":0.163,"align":0},"axis":null},"text":{"field":"name"}}}
   ]},
  {"data":{"name":"hdrRight"},
   "layer":[
    {"data":{"values":[{"v":10}]},"mark":{"type":"rule","color":"#555555","strokeWidth":1.5},"encoding":{"x":{"field":"v","type":"quantitative","scale":{"domain":[10,30],"range":[614,1534],"nice":false,"zero":false},"axis":null}}},
    {"mark":{"type":"rule","strokeWidth":3},"encoding":{"x":{"datum":10,"scale":{"domain":[10,30],"range":[614,1534],"nice":false,"zero":false},"axis":null},"x2":{"datum":30},"y":{"field":"row","type":"ordinal","bandPosition":1,"scale":{"type":"band","domain":[1,2,3],"paddingInner":0,"paddingOuter":0.163,"align":0},"axis":null},"color":{"field":"curve","type":"nominal","scale":{"domain":["X-CALIPER","Y-CALIPER","BIT SIZE"],"range":["#ff0000","#0000ff","#000000"]},"legend":null},"strokeDash":{"field":"curve","type":"nominal","scale":{"domain":["X-CALIPER","Y-CALIPER","BIT SIZE"],"range":[[1,0],[10,6],[1,0]]},"legend":null}}},
    {"mark":{"type":"text","align":"left","baseline":"middle","fontSize":26,"dx":6,"dy":2},"encoding":{"x":{"datum":10,"scale":{"domain":[10,30],"range":[614,1534],"nice":false,"zero":false},"axis":null},"y":{"field":"row","type":"ordinal","bandPosition":0.5,"scale":{"type":"band","domain":[1,2,3],"paddingInner":0,"paddingOuter":0.163,"align":0},"axis":null},"text":{"field":"lo"}}},
    {"mark":{"type":"text","align":"center","baseline":"middle","fontSize":26,"dy":2},"encoding":{"x":{"datum":20,"scale":{"domain":[10,30],"range":[614,1534],"nice":false,"zero":false},"axis":null},"y":{"field":"row","type":"ordinal","bandPosition":0.5,"scale":{"type":"band","domain":[1,2,3],"paddingInner":0,"paddingOuter":0.163,"align":0},"axis":null},"text":{"field":"name"}}},
    {"mark":{"type":"text","align":"right","baseline":"middle","fontSize":26,"dx":-6,"dy":2},"encoding":{"x":{"datum":30,"scale":{"domain":[10,30],"range":[614,1534],"nice":false,"zero":false},"axis":null},"y":{"field":"row","type":"ordinal","bandPosition":0.5,"scale":{"type":"band","domain":[1,2,3],"paddingInner":0,"paddingOuter":0.163,"align":0},"axis":null},"text":{"field":"hi"}}}
   ]}
 ]},
{"width":1534,"height":53,"view":{"stroke":null},"data":{"values":[{"t":""}]},"mark":{"type":"text"},"encoding":{"text":{"field":"t"}}},
{"width":1534,"height":45,"data":{"values":[{"t":"logo"}]},"mark":{"type":"point","shape":"M-1,0C-1,-0.193,-0.552,-0.35,0,-0.35C0.552,-0.35,1,-0.193,1,0C1,0.193,0.552,0.35,0,0.35C-0.552,0.35,-1,0.193,-1,0Z","filled":false,"color":"#a6a6a6","strokeWidth":14,"opacity":1,"size":129600,"clip":true},"encoding":{"x":{"value":190},"y":{"value":87}}}
]
}
